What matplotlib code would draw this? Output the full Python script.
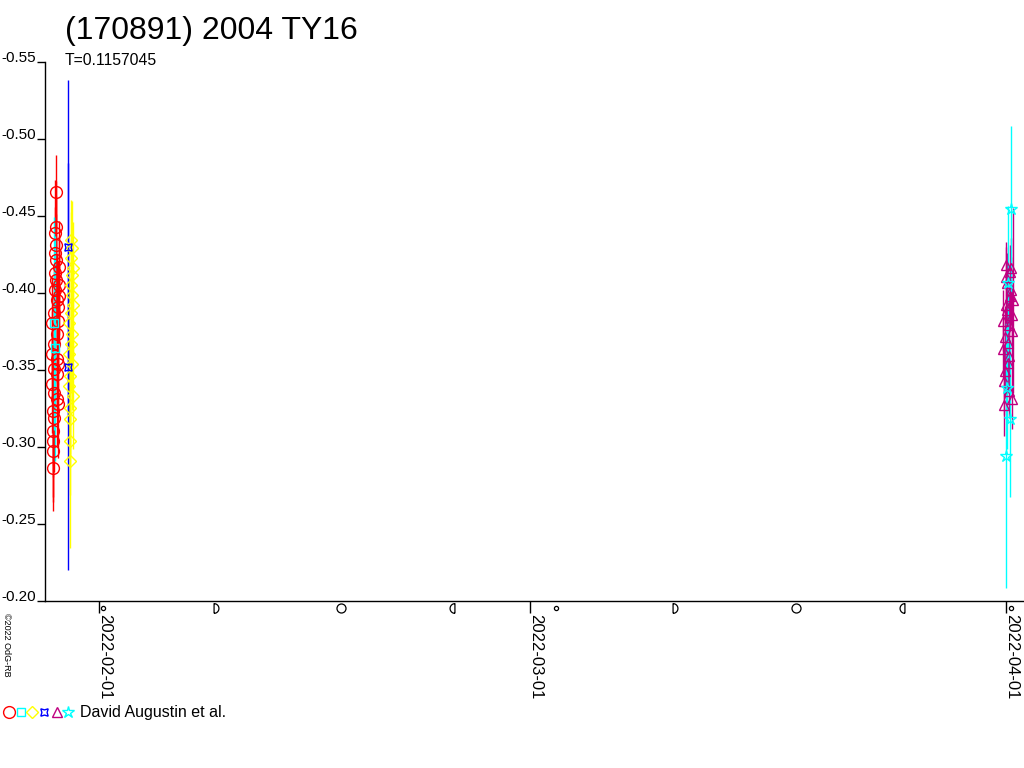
import matplotlib
matplotlib.use("Agg")
import matplotlib.pyplot as plt
import matplotlib.dates as mdates
import matplotlib.transforms as mtransforms
from matplotlib.path import Path
from matplotlib.lines import Line2D
import numpy as np
import pandas as pd

plt.rcParams['font.family'] = ['Liberation Sans', 'DejaVu Sans']

# ---------------- texts ----------------
title = "(170891) 2004 TY16"
subtitle = "T=0.1157045"
observer = "David Augustin et al."
copyright_text = "©2022 OdG-RB"

# ---------------- axis settings ----------------
x_start = "2022-01-28T11:15"
x_end = "2022-04-02T03:20"
y_top = -0.55
y_bottom = -0.20
y_ticks = [-0.55, -0.50, -0.45, -0.40, -0.35, -0.30, -0.25, -0.20]
x_ticks = ["2022-02-01", "2022-03-01", "2022-04-01"]

# moon phases
moon_dates = ["2022-02-01T05:46", "2022-02-08T13:50", "2022-02-16T16:56", "2022-02-23T22:32",
              "2022-03-02T17:35", "2022-03-10T10:45", "2022-03-18T07:17", "2022-03-25T05:37",
              "2022-04-01T06:24"]
moon_phase = ["new", "first", "full", "last", "new", "first", "full", "last", "new"]

# ---------------- data ----------------
red_t = ["2022-01-28T22:00", "2022-01-28T22:20", "2022-01-28T22:40", "2022-01-28T23:00",
         "2022-01-28T23:20", "2022-01-28T23:40", "2022-01-29T00:00", "2022-01-29T00:20",
         "2022-01-29T00:40", "2022-01-29T01:00", "2022-01-29T01:20", "2022-01-29T01:40",
         "2022-01-29T02:00", "2022-01-29T02:20", "2022-01-29T02:40", "2022-01-29T03:00",
         "2022-01-29T03:20", "2022-01-29T03:40", "2022-01-29T04:00", "2022-01-29T04:20",
         "2022-01-29T04:40", "2022-01-29T05:00", "2022-01-29T05:20", "2022-01-29T05:40",
         "2022-01-29T06:00", "2022-01-29T06:20", "2022-01-29T06:40", "2022-01-29T07:00",
         "2022-01-29T07:20", "2022-01-29T07:40", "2022-01-29T08:00", "2022-01-29T08:20",
         "2022-01-29T08:40", "2022-01-29T09:00"]
red_v = [-0.3802, -0.3606, -0.3412, -0.3236, -0.3106, -0.2976, -0.2865, -0.3041, -0.3190,
         -0.3353, -0.3509, -0.3672, -0.3867, -0.4017, -0.4127, -0.4257, -0.4387, -0.4654,
         -0.4427, -0.4309, -0.4212, -0.4082, -0.3952, -0.3737, -0.3574, -0.3477, -0.3314,
         -0.3281, -0.3542, -0.3821, -0.3906, -0.4049, -0.3978, -0.4166]
red_e = [0.030, 0.028, 0.032, 0.035, 0.030, 0.030, 0.028, 0.040, 0.035, 0.030, 0.028, 0.030,
         0.032, 0.030, 0.028, 0.030, 0.035, 0.024, 0.030, 0.032, 0.030, 0.028, 0.030, 0.032,
         0.030, 0.028, 0.030, 0.035, 0.030, 0.028, 0.030, 0.032, 0.030, 0.030]

cyan_sq_t = ["2022-01-29T02:00", "2022-01-29T03:30"]
cyan_sq_v = [-0.3802, -0.3640]
cyan_sq_e = [0.069, 0.073]

yellow_t = ["2022-01-30T00:30", "2022-01-30T00:50", "2022-01-30T01:10", "2022-01-30T01:30",
            "2022-01-30T01:50", "2022-01-30T02:10", "2022-01-30T02:30", "2022-01-30T02:50",
            "2022-01-30T03:10", "2022-01-30T03:30", "2022-01-30T03:50", "2022-01-30T04:10",
            "2022-01-30T04:30", "2022-01-30T04:50", "2022-01-30T05:10", "2022-01-30T05:30",
            "2022-01-30T05:50", "2022-01-30T06:10", "2022-01-30T06:30", "2022-01-30T06:50",
            "2022-01-30T07:10"]
yellow_v = [-0.3802, -0.3607, -0.3399, -0.3184, -0.2911, -0.3041, -0.3256, -0.3464, -0.3672,
            -0.3867, -0.4049, -0.4225, -0.4342, -0.4290, -0.4114, -0.3984, -0.3737, -0.3542,
            -0.3334, -0.3919, -0.4160]
yellow_e = [0.030, 0.030, 0.035, 0.030, 0.057, 0.035, 0.030, 0.030, 0.030, 0.030, 0.030, 0.030,
            0.026, 0.031, 0.030, 0.030, 0.030, 0.030, 0.035, 0.030, 0.030]

blue_t = ["2022-01-29T23:00", "2022-01-29T23:20"]
blue_v = [-0.4296, -0.3522]
blue_e = [0.109, 0.132]

magenta_t = ["2022-03-31T18:30", "2022-03-31T19:10", "2022-03-31T19:50", "2022-03-31T20:30",
             "2022-03-31T21:10", "2022-03-31T21:50", "2022-03-31T22:30", "2022-03-31T23:10",
             "2022-03-31T23:50", "2022-04-01T00:30", "2022-04-01T01:10", "2022-04-01T01:50",
             "2022-04-01T02:30", "2022-04-01T03:10", "2022-04-01T03:50", "2022-04-01T04:30",
             "2022-04-01T05:10", "2022-04-01T05:50", "2022-04-01T06:30", "2022-04-01T07:10",
             "2022-04-01T07:50", "2022-04-01T08:30", "2022-04-01T09:10", "2022-04-01T09:50"]
magenta_v = [-0.3821, -0.3639, -0.3431, -0.3270, -0.3496, -0.3717, -0.3919, -0.4101, -0.4179,
             -0.4062, -0.3887, -0.3678, -0.3548, -0.3366, -0.3594, -0.3789, -0.3978, -0.4134,
             -0.4160, -0.4017, -0.3854, -0.3756, -0.3314, -0.3952]
magenta_e = [0.020, 0.020, 0.022, 0.020, 0.018, 0.020, 0.022, 0.020, 0.015, 0.020, 0.020, 0.022,
             0.020, 0.018, 0.020, 0.020, 0.022, 0.018, 0.020, 0.022, 0.020, 0.025, 0.020, 0.060]

cyan_st_t = ["2022-03-31T23:20", "2022-04-01T00:45", "2022-04-01T02:30", "2022-04-01T05:30",
             "2022-04-01T07:10"]
cyan_st_v = [-0.2943, -0.3386, -0.4062, -0.3184, -0.4546]
cyan_st_e = [0.086, 0.040, 0.050, 0.051, 0.054]

series = [
    (red_t, red_v, red_e, "#ff0000", "o", 8.5),
    (cyan_sq_t, cyan_sq_v, cyan_sq_e, "#00ffff", "s", 5.5),
    (yellow_t, yellow_v, yellow_e, "#ffff00", "D", 6.5),
    (blue_t, blue_v, blue_e, "#0000ff", (4, 1, 45), 7.5),
    (magenta_t, magenta_v, magenta_e, "#c00080", "^", 6.5),
    (cyan_st_t, cyan_st_v, cyan_st_e, "#00ffff", "*", 9.0),
]


def to_num(lst):
    return mdates.date2num(pd.to_datetime(lst).to_pydatetime())


W, H = 1024, 768
PX = 0.72  # points per pixel at dpi 100
fig = plt.figure(figsize=(W / 100, H / 100), dpi=100)
ax = fig.add_axes([45 / W, 167 / H, 979 / W, 539 / H])

for t, v, e, col, mk, ms in series:
    ax.errorbar(to_num(t), v, yerr=e, fmt='none', ecolor=col, elinewidth=1, capsize=0, zorder=2)
    ax.plot(to_num(t), v, linestyle='none', marker=mk, ms=ms, mfc='none', mec=col, mew=1, zorder=3)

ax.set_xlim(to_num([x_start])[0], to_num([x_end])[0])
ax.set_ylim(y_bottom, y_top)

ax.set_yticks(y_ticks)
ax.set_yticklabels(["%.2f" % y for y in y_ticks])
ax.tick_params(axis='y', direction='out', length=8 * PX, width=1, pad=1 * PX, labelsize=11)
for lbl in ax.get_yticklabels():
    lbl.set_verticalalignment('baseline')

ax.set_xticks(to_num(x_ticks))
ax.set_xticklabels(x_ticks, rotation=270, ha='left', va='top')
ax.tick_params(axis='x', direction='out', length=12 * PX, width=1, pad=1.5 * PX, labelsize=12)
shift = mtransforms.ScaledTranslation(-2 / 100, 0, fig.dpi_scale_trans)
for lbl in ax.get_xticklabels():
    lbl.set_transform(lbl.get_transform() + shift)

for s in ['top', 'right']:
    ax.spines[s].set_visible(False)
for s in ['left', 'bottom']:
    ax.spines[s].set_linewidth(1)
    ax.spines[s].set_color('black')

# moon phase symbols
theta = np.linspace(-np.pi / 2, np.pi / 2, 25)
d_verts = np.column_stack([np.cos(theta) - 0.5, np.sin(theta)])
d_verts = np.vstack([d_verts, d_verts[:1]])
first_q = Path(d_verts)
last_q = Path(np.column_stack([-d_verts[:, 0], d_verts[:, 1]]))
moon_style = {"new": ("o", 3.0), "first": (first_q, 7.0), "full": ("o", 6.5), "last": (last_q, 7.0)}
trans = mtransforms.blended_transform_factory(ax.transData, ax.transAxes)
for d, p in zip(to_num(moon_dates), moon_phase):
    mk, ms = moon_style[p]
    ax.plot([d], [-7 / 539], marker=mk, ms=ms, mfc='none', mec='black', mew=0.9,
            transform=trans, clip_on=False, linestyle='none')

# texts
fig.text(65 / W, 1 - 39 / H, title, fontsize=23, ha='left', va='baseline')
fig.text(65 / W, 1 - 65 / H, subtitle, fontsize=11.3, ha='left', va='baseline')
fig.text(6 / W, 1 - 613 / H, copyright_text, fontsize=6.5, rotation=270, ha='center', va='top')

# legend line
leg_x = [9, 21, 32, 44, 57, 68]
for (t, v, e, col, mk, ms), lx in zip(series, leg_x):
    fig.add_artist(Line2D([lx / W], [1 - 712 / H], marker=mk, ms=ms, mfc='none', mec=col,
                          mew=1, linestyle='none', transform=fig.transFigure))
fig.text(80 / W, 1 - 717 / H, observer, fontsize=11.5, ha='left', va='baseline')

fig.savefig("out.png", dpi=100)
